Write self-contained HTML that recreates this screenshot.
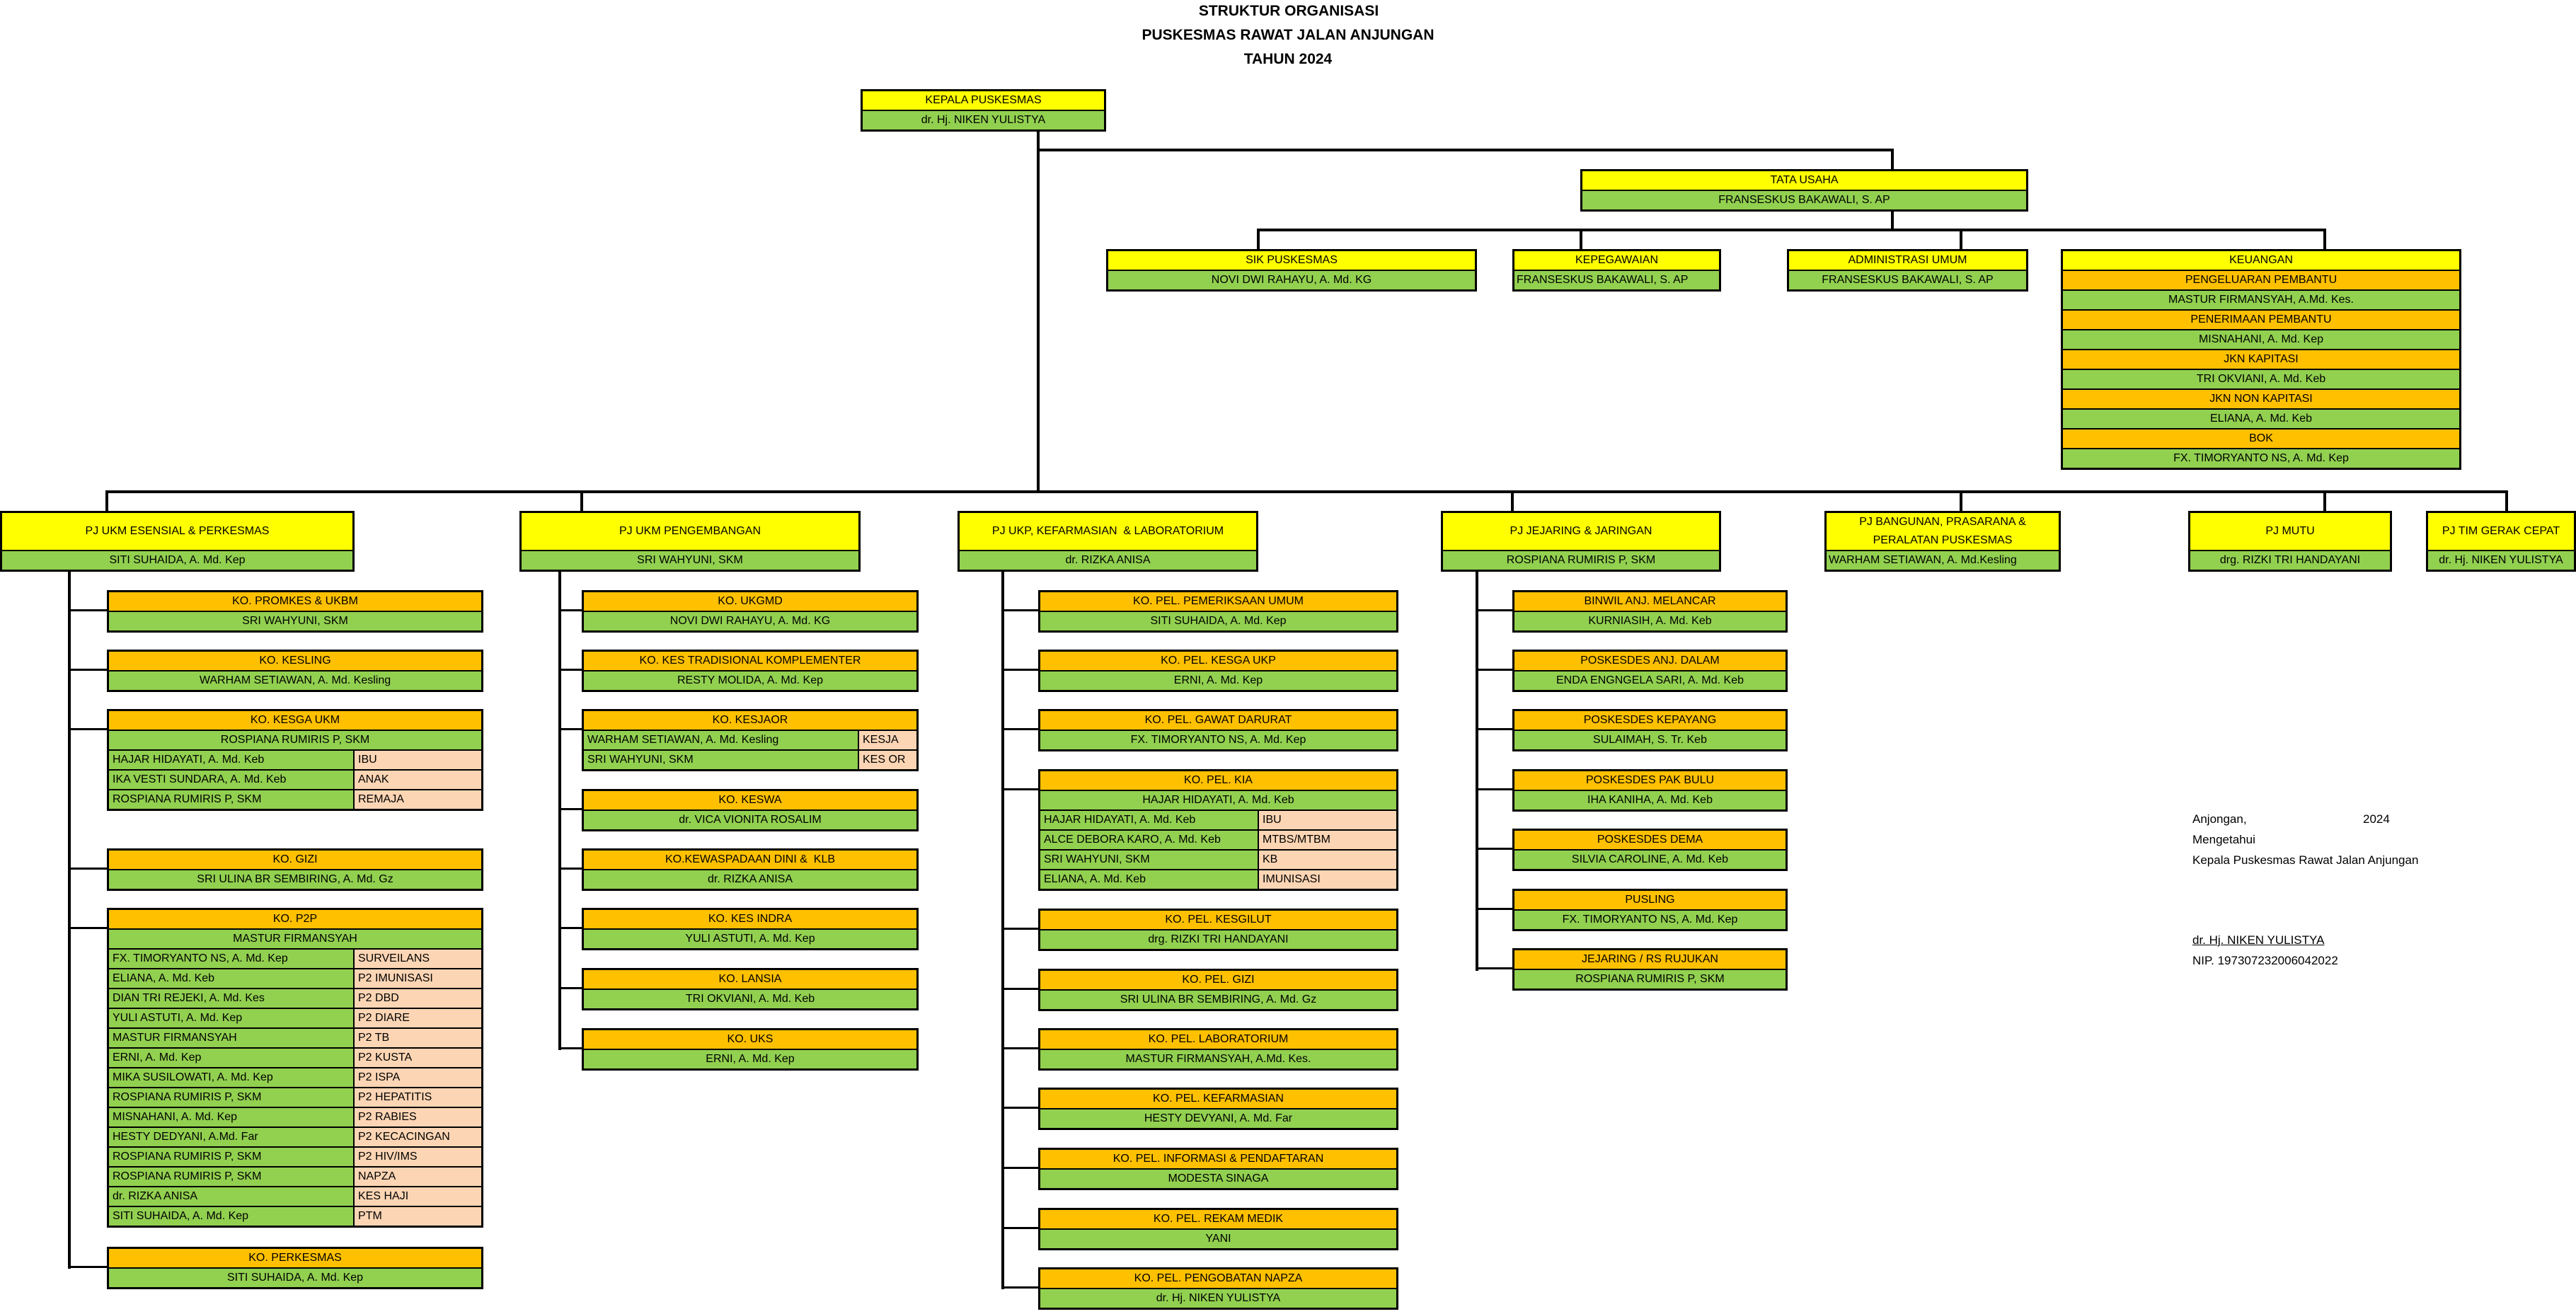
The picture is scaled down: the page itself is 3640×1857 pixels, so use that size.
<!DOCTYPE html>
<html><head><meta charset="utf-8"><style>
body{margin:0;width:3640px;height:1857px;background:#fff;position:relative;overflow:hidden;font-family:"Liberation Sans",sans-serif;}
.t{position:absolute;left:0;width:3640px;text-align:center;font-weight:bold;font-size:21px;color:#000}
.b{position:absolute;border:3px solid #000;box-sizing:border-box;font-size:16px;color:#000}
.b>div{height:28px;line-height:26px;border-top:2px solid #000;text-align:center;white-space:nowrap;overflow:hidden;box-sizing:border-box}
.b>div:first-child{border-top:0;height:26px}
.y{background:#ff0}.g{background:#92d050}.o{background:#ffc000}.p{background:#fcd5b4}
.b>div.s{display:flex;text-align:left}
.s span{display:block;height:100%;padding-left:5px;box-sizing:border-box}
.s span:first-child{background:#92d050;border-right:2px solid #000}
.s span:last-child{flex:1;background:#fcd5b4}
.b>div.big{height:52px;line-height:52px}
.l{position:absolute;background:#000}
.sig{position:absolute;font-size:17px;color:#000}
</style></head><body>
<div class="t" style="top:4px;left:1px">STRUKTUR ORGANISASI</div>
<div class="t" style="top:38px">PUSKESMAS RAWAT JALAN ANJUNGAN</div>
<div class="t" style="top:72px">TAHUN 2024</div>

<!-- connectors -->
<div class="l" style="left:1465px;top:185px;width:4px;height:512px"></div>
<div class="l" style="left:1465px;top:210px;width:1211px;height:4px"></div>
<div class="l" style="left:2672px;top:210px;width:4px;height:30px"></div>
<div class="l" style="left:2672px;top:296px;width:4px;height:30px"></div>
<div class="l" style="left:1776px;top:323px;width:1511px;height:4px"></div>
<div class="l" style="left:1776px;top:323px;width:4px;height:30px"></div>
<div class="l" style="left:2232px;top:323px;width:4px;height:30px"></div>
<div class="l" style="left:2769px;top:323px;width:4px;height:30px"></div>
<div class="l" style="left:3283px;top:323px;width:4px;height:30px"></div>
<div class="l" style="left:149px;top:693px;width:3395px;height:4px"></div>
<div class="l" style="left:149px;top:693px;width:4px;height:30px"></div>
<div class="l" style="left:820px;top:693px;width:4px;height:30px"></div>
<div class="l" style="left:2135px;top:693px;width:4px;height:30px"></div>
<div class="l" style="left:2769px;top:693px;width:4px;height:30px"></div>
<div class="l" style="left:3283px;top:693px;width:4px;height:30px"></div>
<div class="l" style="left:3540px;top:693px;width:4px;height:30px"></div>
<!-- column verticals -->
<div class="l" style="left:96px;top:805px;width:4px;height:988px"></div>
<div class="l" style="left:789px;top:805px;width:4px;height:679px"></div>
<div class="l" style="left:1415px;top:805px;width:4px;height:1017px"></div>
<div class="l" style="left:2085px;top:805px;width:4px;height:567px"></div>
<!-- stubs col1 -->
<div class="l" style="left:96px;top:861px;width:56px;height:3px"></div>
<div class="l" style="left:96px;top:945px;width:56px;height:3px"></div>
<div class="l" style="left:96px;top:1029px;width:56px;height:3px"></div>
<div class="l" style="left:96px;top:1226px;width:56px;height:3px"></div>
<div class="l" style="left:96px;top:1310px;width:56px;height:3px"></div>
<div class="l" style="left:96px;top:1789px;width:56px;height:3px"></div>
<!-- stubs col2 -->
<div class="l" style="left:789px;top:861px;width:34px;height:3px"></div>
<div class="l" style="left:789px;top:945px;width:34px;height:3px"></div>
<div class="l" style="left:789px;top:1029px;width:34px;height:3px"></div>
<div class="l" style="left:789px;top:1142px;width:34px;height:3px"></div>
<div class="l" style="left:789px;top:1226px;width:34px;height:3px"></div>
<div class="l" style="left:789px;top:1310px;width:34px;height:3px"></div>
<div class="l" style="left:789px;top:1395px;width:34px;height:3px"></div>
<div class="l" style="left:789px;top:1480px;width:34px;height:3px"></div>
<!-- stubs col3 -->
<div class="l" style="left:1415px;top:861px;width:53px;height:3px"></div>
<div class="l" style="left:1415px;top:945px;width:53px;height:3px"></div>
<div class="l" style="left:1415px;top:1029px;width:53px;height:3px"></div>
<div class="l" style="left:1415px;top:1114px;width:53px;height:3px"></div>
<div class="l" style="left:1415px;top:1311px;width:53px;height:3px"></div>
<div class="l" style="left:1415px;top:1396px;width:53px;height:3px"></div>
<div class="l" style="left:1415px;top:1480px;width:53px;height:3px"></div>
<div class="l" style="left:1415px;top:1564px;width:53px;height:3px"></div>
<div class="l" style="left:1415px;top:1649px;width:53px;height:3px"></div>
<div class="l" style="left:1415px;top:1734px;width:53px;height:3px"></div>
<div class="l" style="left:1415px;top:1818px;width:53px;height:3px"></div>
<!-- stubs col4 -->
<div class="l" style="left:2085px;top:861px;width:53px;height:3px"></div>
<div class="l" style="left:2085px;top:945px;width:53px;height:3px"></div>
<div class="l" style="left:2085px;top:1029px;width:53px;height:3px"></div>
<div class="l" style="left:2085px;top:1114px;width:53px;height:3px"></div>
<div class="l" style="left:2085px;top:1198px;width:53px;height:3px"></div>
<div class="l" style="left:2085px;top:1283px;width:53px;height:3px"></div>
<div class="l" style="left:2085px;top:1367px;width:53px;height:3px"></div>

<!-- top boxes -->
<div class="b" style="left:1216px;top:126px;width:347px"><div class="y">KEPALA PUSKESMAS</div><div class="g">dr. Hj. NIKEN YULISTYA</div></div>
<div class="b" style="left:2233px;top:239px;width:633px"><div class="y">TATA USAHA</div><div class="g">FRANSESKUS BAKAWALI, S. AP</div></div>
<div class="b" style="left:1563px;top:352px;width:524px"><div class="y">SIK PUSKESMAS</div><div class="g">NOVI DWI RAHAYU, A. Md. KG</div></div>
<div class="b" style="left:2137px;top:352px;width:295px"><div class="y">KEPEGAWAIAN</div><div class="g" style="text-align:left;padding-left:3px">FRANSESKUS BAKAWALI, S. AP</div></div>
<div class="b" style="left:2525px;top:352px;width:341px"><div class="y">ADMINISTRASI UMUM</div><div class="g">FRANSESKUS BAKAWALI, S. AP</div></div>
<div class="b" style="left:2912px;top:352px;width:566px"><div class="y">KEUANGAN</div><div class="o">PENGELUARAN PEMBANTU</div><div class="g">MASTUR FIRMANSYAH, A.Md. Kes.</div><div class="o">PENERIMAAN PEMBANTU</div><div class="g">MISNAHANI, A. Md. Kep</div><div class="o">JKN KAPITASI</div><div class="g">TRI OKVIANI, A. Md. Keb</div><div class="o">JKN NON KAPITASI</div><div class="g">ELIANA, A. Md. Keb</div><div class="o">BOK</div><div class="g">FX. TIMORYANTO NS, A. Md. Kep</div></div>

<!-- PJ boxes -->
<div class="b" style="left:0px;top:722px;width:501px"><div class="y big">PJ UKM ESENSIAL &amp; PERKESMAS</div><div class="g">SITI SUHAIDA, A. Md. Kep</div></div>
<div class="b" style="left:734px;top:722px;width:482px"><div class="y big">PJ UKM PENGEMBANGAN</div><div class="g">SRI WAHYUNI, SKM</div></div>
<div class="b" style="left:1353px;top:722px;width:425px"><div class="y big">PJ UKP, KEFARMASIAN &nbsp;&amp; LABORATORIUM</div><div class="g">dr. RIZKA ANISA</div></div>
<div class="b" style="left:2036px;top:722px;width:396px"><div class="y big">PJ JEJARING &amp; JARINGAN</div><div class="g">ROSPIANA RUMIRIS P, SKM</div></div>
<div class="b" style="left:2578px;top:722px;width:334px"><div class="y big" style="line-height:26px;white-space:normal">PJ BANGUNAN, PRASARANA &amp;<br>PERALATAN PUSKESMAS</div><div class="g" style="text-align:left;padding-left:3px">WARHAM SETIAWAN, A. Md.Kesling</div></div>
<div class="b" style="left:3092px;top:722px;width:288px"><div class="y big">PJ MUTU</div><div class="g">drg. RIZKI TRI HANDAYANI</div></div>
<div class="b" style="left:3428px;top:722px;width:212px"><div class="y big">PJ TIM GERAK CEPAT</div><div class="g">dr. Hj. NIKEN YULISTYA</div></div>

<!-- col1 -->
<div class="b" style="left:151px;top:834px;width:532px"><div class="o">KO. PROMKES &amp; UKBM</div><div class="g">SRI WAHYUNI, SKM</div></div>
<div class="b" style="left:151px;top:918px;width:532px"><div class="o">KO. KESLING</div><div class="g">WARHAM SETIAWAN, A. Md. Kesling</div></div>
<div class="b" style="left:151px;top:1002px;width:532px"><div class="o">KO. KESGA UKM</div><div class="g">ROSPIANA RUMIRIS P, SKM</div>
<div class="s"><span style="width:347px">HAJAR HIDAYATI, A. Md. Keb</span><span>IBU</span></div>
<div class="s"><span style="width:347px">IKA VESTI SUNDARA, A. Md. Keb</span><span>ANAK</span></div>
<div class="s"><span style="width:347px">ROSPIANA RUMIRIS P, SKM</span><span>REMAJA</span></div></div>
<div class="b" style="left:151px;top:1199px;width:532px"><div class="o">KO. GIZI</div><div class="g">SRI ULINA BR SEMBIRING, A. Md. Gz</div></div>
<div class="b" style="left:151px;top:1283px;width:532px"><div class="o">KO. P2P</div><div class="g">MASTUR FIRMANSYAH</div>
<div class="s"><span style="width:347px">FX. TIMORYANTO NS, A. Md. Kep</span><span>SURVEILANS</span></div>
<div class="s"><span style="width:347px">ELIANA, A. Md. Keb</span><span>P2 IMUNISASI</span></div>
<div class="s"><span style="width:347px">DIAN TRI REJEKI, A. Md. Kes</span><span>P2 DBD</span></div>
<div class="s"><span style="width:347px">YULI ASTUTI, A. Md. Kep</span><span>P2 DIARE</span></div>
<div class="s"><span style="width:347px">MASTUR FIRMANSYAH</span><span>P2 TB</span></div>
<div class="s"><span style="width:347px">ERNI, A. Md. Kep</span><span>P2 KUSTA</span></div>
<div class="s"><span style="width:347px">MIKA SUSILOWATI, A. Md. Kep</span><span>P2 ISPA</span></div>
<div class="s"><span style="width:347px">ROSPIANA RUMIRIS P, SKM</span><span>P2 HEPATITIS</span></div>
<div class="s"><span style="width:347px">MISNAHANI, A. Md. Kep</span><span>P2 RABIES</span></div>
<div class="s"><span style="width:347px">HESTY DEDYANI, A.Md. Far</span><span>P2 KECACINGAN</span></div>
<div class="s"><span style="width:347px">ROSPIANA RUMIRIS P, SKM</span><span>P2 HIV/IMS</span></div>
<div class="s"><span style="width:347px">ROSPIANA RUMIRIS P, SKM</span><span>NAPZA</span></div>
<div class="s"><span style="width:347px">dr. RIZKA ANISA</span><span>KES HAJI</span></div>
<div class="s"><span style="width:347px">SITI SUHAIDA, A. Md. Kep</span><span>PTM</span></div></div>
<div class="b" style="left:151px;top:1762px;width:532px"><div class="o">KO. PERKESMAS</div><div class="g">SITI SUHAIDA, A. Md. Kep</div></div>

<!-- col2 -->
<div class="b" style="left:822px;top:834px;width:476px"><div class="o">KO. UKGMD</div><div class="g">NOVI DWI RAHAYU, A. Md. KG</div></div>
<div class="b" style="left:822px;top:918px;width:476px"><div class="o">KO. KES TRADISIONAL KOMPLEMENTER</div><div class="g">RESTY MOLIDA, A. Md. Kep</div></div>
<div class="b" style="left:822px;top:1002px;width:476px"><div class="o">KO. KESJAOR</div>
<div class="s"><span style="width:389px">WARHAM SETIAWAN, A. Md. Kesling</span><span>KESJA</span></div>
<div class="s"><span style="width:389px">SRI WAHYUNI, SKM</span><span>KES OR</span></div></div>
<div class="b" style="left:822px;top:1115px;width:476px"><div class="o">KO. KESWA</div><div class="g">dr. VICA VIONITA ROSALIM</div></div>
<div class="b" style="left:822px;top:1199px;width:476px"><div class="o">KO.KEWASPADAAN DINI &amp;&nbsp; KLB</div><div class="g">dr. RIZKA ANISA</div></div>
<div class="b" style="left:822px;top:1283px;width:476px"><div class="o">KO. KES INDRA</div><div class="g">YULI ASTUTI, A. Md. Kep</div></div>
<div class="b" style="left:822px;top:1368px;width:476px"><div class="o">KO. LANSIA</div><div class="g">TRI OKVIANI, A. Md. Keb</div></div>
<div class="b" style="left:822px;top:1453px;width:476px"><div class="o">KO. UKS</div><div class="g">ERNI, A. Md. Kep</div></div>

<!-- col3 -->
<div class="b" style="left:1467px;top:834px;width:509px"><div class="o">KO. PEL. PEMERIKSAAN UMUM</div><div class="g">SITI SUHAIDA, A. Md. Kep</div></div>
<div class="b" style="left:1467px;top:918px;width:509px"><div class="o">KO. PEL. KESGA UKP</div><div class="g">ERNI, A. Md. Kep</div></div>
<div class="b" style="left:1467px;top:1002px;width:509px"><div class="o">KO. PEL. GAWAT DARURAT</div><div class="g">FX. TIMORYANTO NS, A. Md. Kep</div></div>
<div class="b" style="left:1467px;top:1087px;width:509px"><div class="o">KO. PEL. KIA</div><div class="g">HAJAR HIDAYATI, A. Md. Keb</div>
<div class="s"><span style="width:309px">HAJAR HIDAYATI, A. Md. Keb</span><span>IBU</span></div>
<div class="s"><span style="width:309px">ALCE DEBORA KARO, A. Md. Keb</span><span>MTBS/MTBM</span></div>
<div class="s"><span style="width:309px">SRI WAHYUNI, SKM</span><span>KB</span></div>
<div class="s"><span style="width:309px">ELIANA, A. Md. Keb</span><span>IMUNISASI</span></div></div>
<div class="b" style="left:1467px;top:1284px;width:509px"><div class="o">KO. PEL. KESGILUT</div><div class="g">drg. RIZKI TRI HANDAYANI</div></div>
<div class="b" style="left:1467px;top:1369px;width:509px"><div class="o">KO. PEL. GIZI</div><div class="g">SRI ULINA BR SEMBIRING, A. Md. Gz</div></div>
<div class="b" style="left:1467px;top:1453px;width:509px"><div class="o">KO. PEL. LABORATORIUM</div><div class="g">MASTUR FIRMANSYAH, A.Md. Kes.</div></div>
<div class="b" style="left:1467px;top:1537px;width:509px"><div class="o">KO. PEL. KEFARMASIAN</div><div class="g">HESTY DEVYANI, A. Md. Far</div></div>
<div class="b" style="left:1467px;top:1622px;width:509px"><div class="o">KO. PEL. INFORMASI &amp; PENDAFTARAN</div><div class="g">MODESTA SINAGA</div></div>
<div class="b" style="left:1467px;top:1707px;width:509px"><div class="o">KO. PEL. REKAM MEDIK</div><div class="g">YANI</div></div>
<div class="b" style="left:1467px;top:1791px;width:509px"><div class="o">KO. PEL. PENGOBATAN NAPZA</div><div class="g">dr. Hj. NIKEN YULISTYA</div></div>

<!-- col4 -->
<div class="b" style="left:2137px;top:834px;width:389px"><div class="o">BINWIL ANJ. MELANCAR</div><div class="g">KURNIASIH, A. Md. Keb</div></div>
<div class="b" style="left:2137px;top:918px;width:389px"><div class="o">POSKESDES ANJ. DALAM</div><div class="g">ENDA ENGNGELA SARI, A. Md. Keb</div></div>
<div class="b" style="left:2137px;top:1002px;width:389px"><div class="o">POSKESDES KEPAYANG</div><div class="g">SULAIMAH, S. Tr. Keb</div></div>
<div class="b" style="left:2137px;top:1087px;width:389px"><div class="o">POSKESDES PAK BULU</div><div class="g">IHA KANIHA, A. Md. Keb</div></div>
<div class="b" style="left:2137px;top:1171px;width:389px"><div class="o">POSKESDES DEMA</div><div class="g">SILVIA CAROLINE, A. Md. Keb</div></div>
<div class="b" style="left:2137px;top:1256px;width:389px"><div class="o">PUSLING</div><div class="g">FX. TIMORYANTO NS, A. Md. Kep</div></div>
<div class="b" style="left:2137px;top:1340px;width:389px"><div class="o">JEJARING / RS RUJUKAN</div><div class="g">ROSPIANA RUMIRIS P, SKM</div></div>

<!-- signature -->
<div class="sig" style="left:3098px;top:1148px">Anjongan,</div>
<div class="sig" style="left:3339px;top:1148px">2024</div>
<div class="sig" style="left:3098px;top:1177px">Mengetahui</div>
<div class="sig" style="left:3098px;top:1206px">Kepala Puskesmas Rawat Jalan Anjungan</div>
<div class="sig" style="left:3098px;top:1319px;text-decoration:underline">dr. Hj. NIKEN YULISTYA</div>
<div class="sig" style="left:3098px;top:1348px">NIP. 197307232006042022</div>
</body></html>
